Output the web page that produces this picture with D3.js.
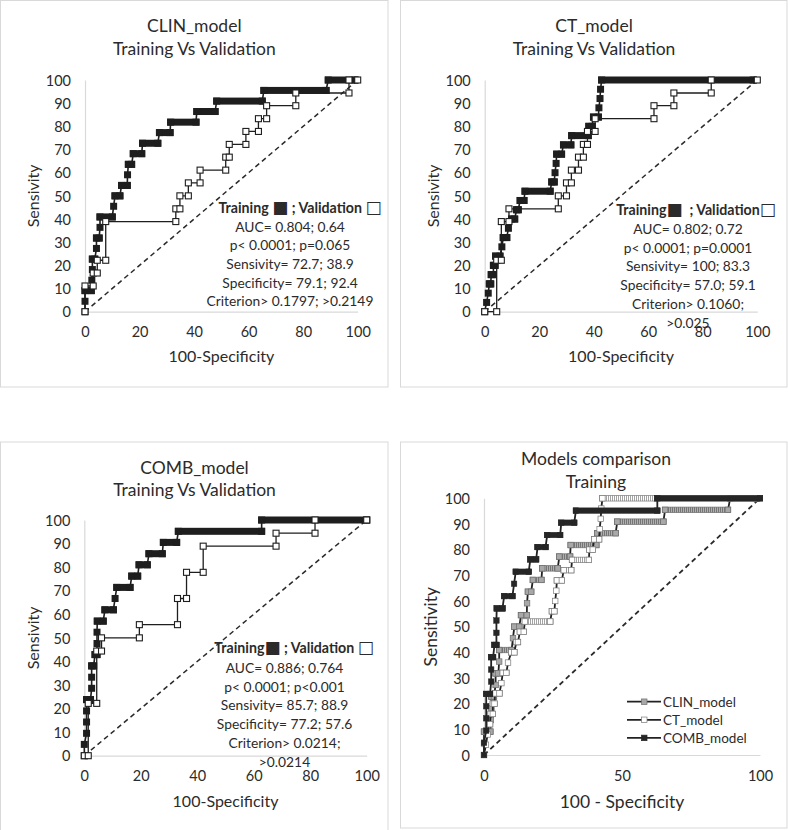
<!DOCTYPE html>
<html><head><meta charset="utf-8">
<script src="https://cdn.jsdelivr.net/npm/d3@7"></script>
<style>
body{margin:0;background:#fff}
svg{display:block}
text{font-family:Lato,'DejaVu Sans',sans-serif;fill:#2b2b2b}
</style>
</head><body>
<svg id="c" width="788" height="830"></svg>
<script>
// ---------- data ----------
const xTicks = [0, 20, 40, 60, 80, 100];
const yTicks = [0, 10, 20, 30, 40, 50, 60, 70, 80, 90, 100];
const compXTicks = [0, 50, 100];

const clinTrain = [[0,0],[0,4.5],[0,9.1],[2.3,9.1],[2.5,13.6],[2.7,18.2],[2.7,22.7],[3.6,22.7],[4.2,27.3],[4.2,31.8],[5.2,31.8],[5.5,36.4],[5.5,40.9],[10,40.9],[10.5,45.5],[11,50],[12.8,50],[13.4,54.5],[15.5,54.5],[15.6,59.1],[15.9,63.6],[17.1,63.6],[17.7,68.2],[20.8,68.2],[21.1,72.7],[26.7,72.7],[27.3,77.3],[31.2,77.3],[31.4,81.8],[40.7,81.8],[41,86.4],[47.7,86.4],[48.3,90.9],[65,90.9],[65.6,95.5],[88.4,95.5],[89.2,100],[99,100]];
const clinValid = [[0,0],[0,11.1],[3,11.1],[3,16.7],[4.5,16.7],[4.5,22.2],[7.6,22.2],[7.6,38.9],[33.3,38.9],[33.3,44.4],[34.8,44.4],[34.8,50],[37.9,50],[37.9,55.6],[42.2,55.6],[42.2,61.1],[51.6,61.1],[51.6,66.7],[52.9,66.7],[52.9,72.2],[59,72.2],[59,77.8],[63.6,77.8],[63.6,83.3],[66.6,83.3],[66.6,88.9],[77.3,88.9],[77.3,94.4],[96.8,94.4],[96.8,100],[100,100]];

const ctTrain = [[0,0],[0.7,4],[1.3,8],[1.7,12],[2.2,12],[2.4,16],[3.2,16],[3.2,20],[3.8,20],[4,24],[5.6,24],[6.3,28],[6.8,32],[8.1,32],[8.7,36],[9.9,40],[11,40],[11.7,44],[12.3,44],[13,48],[14.4,48],[14.8,52],[24,52],[24.6,56],[25.5,56],[25.8,60],[26.2,64],[26.4,68],[28.2,68],[28.9,72],[31.6,72],[31.9,76],[38,76],[38.2,80],[39.4,80],[39.9,84],[41.7,84],[41.9,88],[42.3,92],[42.5,96],[42.9,100],[98.5,100]];
const ctValid = [[0,0],[4.4,0],[4.4,22.2],[6.1,22.2],[6.1,38.9],[8.9,38.9],[8.9,44.4],[27,44.4],[27,50],[30,50],[30,55.6],[31.8,55.6],[31.8,61.1],[34.4,61.1],[34.4,66.7],[36.2,66.7],[36.2,72.2],[37.7,72.2],[37.7,77.8],[40.5,77.8],[40.5,83.3],[62.1,83.3],[62.1,88.9],[69.4,88.9],[69.4,94.4],[83.1,94.4],[83.1,100],[100,100]];

const combTrain = [[0,0],[0,4.8],[0.8,9.5],[0.8,14.3],[0.8,19],[0.8,23.8],[2.2,23.8],[2.6,28.6],[2.6,33.3],[2.6,38.1],[3.3,38.1],[3.8,42.9],[4.5,42.9],[4.5,47.6],[4.5,52.4],[4.6,57.1],[6.7,57.1],[7.3,61.9],[10.3,61.9],[10.9,66.7],[11.5,71.4],[16.2,71.4],[16.8,76.2],[18.9,76.2],[19.4,81],[22.3,81],[22.9,85.7],[27.6,85.7],[28,90.5],[32.7,90.5],[33.3,95.2],[62.8,95.2],[62.8,100],[100,100]];
const combValid = [[0,0],[1.4,0],[1.4,22.2],[4.4,22.2],[4.4,44.4],[6.1,44.4],[6.1,50],[19.5,50],[19.5,55.6],[33,55.6],[33,66.7],[36.2,66.7],[36.2,77.8],[42.1,77.8],[42.1,88.9],[67.9,88.9],[67.9,94.4],[81.7,94.4],[81.7,100],[100,100]];

const clinStats = ["AUC= 0.804; 0.64","p< 0.0001; p=0.065","Sensivity= 72.7; 38.9","Specificity= 79.1; 92.4","Criterion> 0.1797; >0.2149"];
const ctStats = ["AUC= 0.802; 0.72","p< 0.0001; p=0.0001","Sensivity= 100; 83.3","Specificity= 57.0; 59.1","Criterion> 0.1060;",">0.025"];
const combStats = ["AUC= 0.886; 0.764","p< 0.0001; p<0.001","Sensivity= 85.7; 88.9","Specificity= 77.2; 57.6","Criterion> 0.0214;",">0.0214"];
const legendNames = ["CLIN_model","CT_model","COMB_model"];

// ---------- drawing ----------
const svg = d3.select('#c');
const defs = svg.append('defs');
function stripes(id, bg, fg){
  const p = defs.append('pattern').attr('id',id).attr('patternUnits','userSpaceOnUse').attr('width',2).attr('height',10);
  p.append('rect').attr('width',2).attr('height',10).attr('fill',bg);
  p.append('rect').attr('width',0.9).attr('height',10).attr('fill',fg);
}
stripes('pClin','#b0b0b0','#6e6e6e');
stripes('pCt','#ffffff','#9a9a9a');

function panel(cfg){
  const g = svg.append('g');
  const x = d3.scaleLinear().domain([0,100]).range([cfg.x0,cfg.x1]);
  const y = d3.scaleLinear().domain([0,100]).range([cfg.y0,cfg.y1]);
  g.append('rect').attr('x',cfg.box[0]).attr('y',cfg.box[1]).attr('width',cfg.box[2]).attr('height',cfg.box[3])
    .attr('fill','none').attr('stroke','#d9d9d9').attr('stroke-width',1);
  const ay = g.append('g').attr('transform',`translate(${cfg.x0},0)`)
    .call(d3.axisLeft(y).tickValues(yTicks).tickSize(0).tickSizeOuter(0).tickPadding(cfg.ypad));
  const axg = g.append('g').attr('transform',`translate(0,${cfg.y0})`)
    .call(d3.axisBottom(x).tickValues(cfg.xt).tickSize(0).tickSizeOuter(0));
  [ay,axg].forEach(a=>{
    a.attr('font-family',null).attr('font-size',null);
    a.select('.domain').attr('stroke','#d9d9d9').attr('stroke-width',1.2);
    a.selectAll('text').style('font-size',cfg.tickfs+'px').style('fill','#2b2b2b');
  });
  ay.selectAll('text').attr('dy','0.36em');
  axg.selectAll('text').attr('y',cfg.xlabOff).attr('dy','0.36em');
  cfg.title.forEach((t,i)=>g.append('text').attr('x',cfg.tx).attr('y',cfg.ty[i]).attr('text-anchor','middle')
    .attr('dy','0.36em').style('font-size',cfg.tfs+'px').text(t));
  g.append('text').attr('x',(cfg.x0+cfg.x1)/2).attr('y',cfg.xtitleY).attr('dy','0.36em').attr('text-anchor','middle')
    .style('font-size',cfg.afs+'px').text(cfg.xtitle);
  g.append('text').attr('transform',`translate(${cfg.ytitleX},${(cfg.y0+cfg.y1)/2}) rotate(-90)`).attr('dy','0.36em')
    .attr('text-anchor','middle').style('font-size',cfg.afs+'px').text(cfg.ytitle);
  g.append('line').attr('x1',x(0)).attr('y1',y(0)).attr('x2',x(100)).attr('y2',y(100))
    .attr('stroke','#2a2a2a').attr('stroke-width',cfg.dw).attr('stroke-dasharray','5,3.6');
  return {g,x,y};
}

function drawSeries(p, pts, st){
  const {g,x,y} = p;
  const s = g.append('g');
  s.append('path').datum(pts).attr('d',d3.line().x(d=>x(d[0])).y(d=>y(d[1])))
    .attr('fill','none').attr('stroke',st.line).attr('stroke-width',st.lw);
  if (st.bar){
    const h = st.size;
    const runs = d3.pairs(pts).filter(([a,b])=>a[1]===b[1] && a[0]!==b[0]);
    s.selectAll(null).data(runs).join('rect')
      .attr('x',([a])=>x(a[0])-h/2).attr('y',([a])=>y(a[1])-h/2)
      .attr('width',([a,b])=>x(b[0])-x(a[0])+h).attr('height',h)
      .attr('fill',st.bar).attr('stroke',st.stroke).attr('stroke-width',st.sw);
  }
  s.selectAll(null).data(pts).join('rect')
    .attr('x',d=>x(d[0])-st.size/2).attr('y',d=>y(d[1])-st.size/2)
    .attr('width',st.size).attr('height',st.size)
    .attr('fill',st.fill).attr('stroke',st.stroke).attr('stroke-width',st.sw);
}

// header: array of [text, isGlyph]
function stats(p, header, hx, hy, lines, lx, ly){
  const t = p.g.append('text').attr('x',hx).attr('y',hy).attr('text-anchor','middle')
    .style('font-size','14.2px').style('font-weight','bold');
  header.forEach(([s,glyph])=>{
    const ts = t.append('tspan').text(s);
    if (glyph) ts.style('font-family',"'DejaVu Sans'").style('font-size','17px').style('font-weight','normal');
  });
  lines.forEach((s,i)=>p.g.append('text').attr('x',lx).attr('y',ly+i*18.7).attr('text-anchor','middle')
    .style('font-size','13.8px').text(s));
}

const trainSt = {line:'#1e1e1e', lw:1.6, size:7, fill:'#1e1e1e', stroke:'none', sw:0, bar:'#1e1e1e'};
const validSt = {line:'#1e1e1e', lw:1.3, size:6, fill:'#fff', stroke:'#1e1e1e', sw:1.1};

const common = {ypad:14, xt:xTicks, xlabOff:20, tfs:17.5, afs:16, tickfs:14.5, xtitle:'100-Specificity', ytitle:'Sensivity', dw:1.5};

// Panel 1
const p1 = panel(Object.assign({}, common, {x0:85, x1:357.7, y0:311.7, y1:80, box:[0.5,0.5,387.5,386.5],
  title:['CLIN_model','Training Vs Validation'], tx:194.3, ty:[26,48.3], xtitleY:356.7, ytitleX:33.3}));
drawSeries(p1, clinTrain, trainSt);
drawSeries(p1, clinValid, validSt);
stats(p1, [['Training '],['■',1],[' ; Validation '],['□',1]], 300, 213, clinStats, 290, 231.5);

// Panel 2
const p2 = panel(Object.assign({}, common, {x0:484.7, x1:757.3, y0:311.7, y1:80, box:[400.5,0.5,386.5,386.5],
  title:['CT_model','Training Vs Validation'], tx:594, ty:[26,48.3], xtitleY:356.7, ytitleX:433.3}));
drawSeries(p2, ctTrain, trainSt);
drawSeries(p2, ctValid, validSt);
stats(p2, [['Training'],['■',1],['\u00a0\u00a0; Validation'],['□',1]], 696, 215, ctStats, 688, 234);

// Panel 3
const p3 = panel(Object.assign({}, common, {x0:84.3, x1:366.7, y0:755.7, y1:520, box:[0.5,442,387.5,400],
  title:['COMB_model','Training Vs Validation'], tx:194.5, ty:[467.7,490], xtitleY:801, ytitleX:33.3}));
drawSeries(p3, combTrain, trainSt);
drawSeries(p3, combValid, validSt);
stats(p3, [['Training'],['■',1],[' ; Validation '],['□',1]], 294, 653, combStats, 284.5, 673);

// Panel 4
const p4 = panel(Object.assign({}, common, {x0:484, x1:760, y0:755, y1:498.3, box:[400.5,442,386.5,386],
  xt:compXTicks, xlabOff:21, title:['Models comparison','Training'], tx:596, ty:[458.3,481.7], tfs:17.5,
  xtitle:'100 - Specificity', ytitle:'Sensitivity', afs:17.5, xtitleY:801.7, ytitleX:430.7, dw:1.8}));
const compStyles = [
  {line:'#222', lw:1.8, size:5.5, fill:'#a8a8a8', stroke:'#6e6e6e', sw:0.7, bar:'url(#pClin)'},
  {line:'#222', lw:1.8, size:5.5, fill:'#fff', stroke:'#7a7a7a', sw:0.7, bar:'url(#pCt)'},
  {line:'#222', lw:1.8, size:5.5, fill:'#262626', stroke:'#262626', sw:0.5, bar:'#262626'}
];
[clinTrain, ctTrain, combTrain].forEach((d,i)=>drawSeries(p4, d, compStyles[i]));
const lg = p4.g.append('g');
legendNames.forEach((n,i)=>{
  const yy = 701.7 + i*18.1;
  lg.append('line').attr('x1',627).attr('x2',661).attr('y1',yy).attr('y2',yy).attr('stroke','#222').attr('stroke-width',1.8);
  lg.append('rect').attr('x',641.5).attr('y',yy-2.75).attr('width',5.5).attr('height',5.5)
    .attr('fill',compStyles[i].fill).attr('stroke',compStyles[i].stroke).attr('stroke-width',0.7);
  lg.append('text').attr('x',663).attr('y',yy).attr('dy','0.36em').style('font-size','13.5px').text(n);
});
</script>
</body></html>
